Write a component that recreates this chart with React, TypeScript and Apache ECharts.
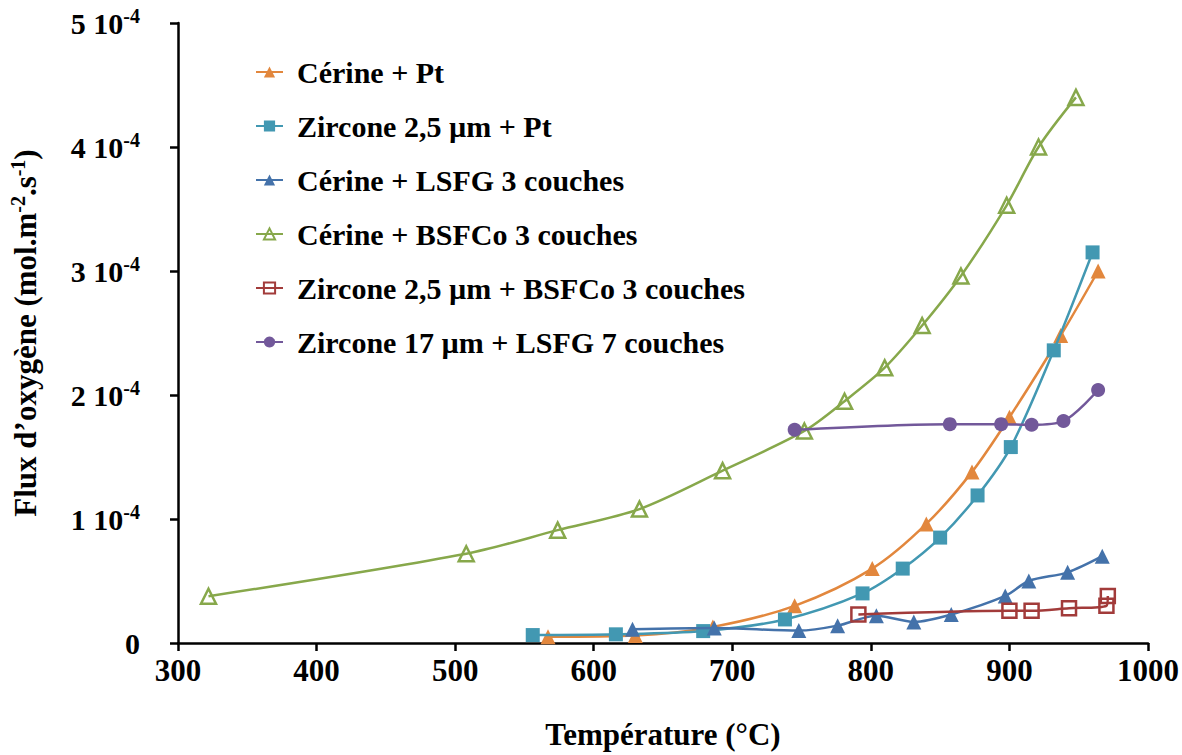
import React, { useEffect, useRef } from "react";
import * as echarts from "echarts";

const seriesNames = [
  "Cérine + Pt",
  "Zircone 2,5 µm + Pt",
  "Cérine + LSFG 3 couches",
  "Cérine + BSFCo 3 couches",
  "Zircone 2,5 µm + BSFCo 3 couches",
  "Zircone 17 µm + LSFG 7 couches",
];

// Temperatures (°C)
const tCerinePt = [567, 630, 686, 745, 801, 840, 873, 900, 937, 964];
const tZircPt = [556, 616, 679, 738, 794, 823, 850, 877, 901, 932, 960];
const tCerineLSFG = [628, 687, 748, 776, 804, 831, 858, 897, 914, 942, 967];
const tCerineBSFCo = [322, 508, 574, 633, 693, 752, 781, 810, 837, 865, 898, 921, 948];
const tZircBSFCo = [791, 900, 916, 943, 970, 971];
const tZirc17LSFG = [745, 857, 894, 916, 939, 964];

// Oxygen flux (mol.m-2.s-1)
const fCerinePt = [0.05e-4, 0.06e-4, 0.13e-4, 0.3e-4, 0.6e-4, 0.96e-4, 1.38e-4, 1.82e-4, 2.48e-4, 3.0e-4];
const fZircPt = [0.064e-4, 0.07e-4, 0.096e-4, 0.19e-4, 0.4e-4, 0.6e-4, 0.85e-4, 1.19e-4, 1.58e-4, 2.36e-4, 3.15e-4];
const fCerineLSFG = [0.11e-4, 0.12e-4, 0.1e-4, 0.14e-4, 0.22e-4, 0.17e-4, 0.23e-4, 0.38e-4, 0.5e-4, 0.57e-4, 0.7e-4];
const fCerineBSFCo = [0.377e-4, 0.72e-4, 0.91e-4, 1.08e-4, 1.39e-4, 1.71e-4, 1.95e-4, 2.22e-4, 2.56e-4, 2.96e-4, 3.53e-4, 4.0e-4, 4.4e-4];
const fZircBSFCo = [0.23e-4, 0.26e-4, 0.26e-4, 0.28e-4, 0.3e-4, 0.38e-4];
const fZirc17LSFG = [1.72e-4, 1.765e-4, 1.765e-4, 1.76e-4, 1.79e-4, 2.04e-4];

const xTicks = { min: 300, max: 1000, interval: 100 };
const yTicks = { min: 0, max: 5e-4, interval: 1e-4 };

const colors = ["#E2873D", "#4298B2", "#4472AA", "#87A84B", "#A23B3A", "#72589A"];

const zip = (xs: number[], ys: number[]) => xs.map((x, i) => [x, ys[i]]);

const FONT = "Liberation Serif";

export default function App() {
  const ref = useRef<HTMLDivElement>(null);
  useEffect(() => {
    if (!ref.current) return;
    const chart = echarts.init(ref.current, undefined, { renderer: "svg" });
    const datasets = [
      zip(tCerinePt, fCerinePt),
      zip(tZircPt, fZircPt),
      zip(tCerineLSFG, fCerineLSFG),
      zip(tCerineBSFCo, fCerineBSFCo),
      zip(tZircBSFCo, fZircBSFCo),
      zip(tZirc17LSFG, fZirc17LSFG),
    ];
    const symbols = ["triangle", "rect", "triangle", "triangle", "rect", "circle"];
    const sizes = [15, 14, 15, 15, 14, 14];
    const hollow = [false, false, false, true, true, false];
    const series = datasets.map((d, i) => ({
      name: seriesNames[i],
      type: "line",
      data: d,
      smooth: 0.3,
      symbol: symbols[i],
      symbolSize: sizes[i],
      showAllSymbol: true,
      lineStyle: { color: colors[i], width: 2.5 },
      itemStyle: hollow[i]
        ? { color: "rgba(255,255,255,0)", borderColor: colors[i], borderWidth: 2.5 }
        : { color: colors[i], borderWidth: 0 },
      z: 2 + i,
    }));
    const tickRich = {
      n: { fontFamily: FONT, fontWeight: "bold", fontSize: 30, color: "#000" },
      s: { fontFamily: FONT, fontWeight: "bold", fontSize: 20, color: "#000", padding: [0, 0, 14, 0] },
    };
    const titleRich = {
      n: { fontFamily: FONT, fontWeight: "bold", fontSize: 31, color: "#000" },
      s: { fontFamily: FONT, fontWeight: "bold", fontSize: 20, color: "#000", padding: [0, 0, 14, 0] },
    };
    chart.setOption({
      animation: false,
      backgroundColor: "#fff",
      grid: { left: 172, right: 34, top: 23, bottom: 108, containLabel: false },
      legend: {
        orient: "vertical",
        left: 255,
        top: 57,
        padding: 0,
        itemWidth: 27,
        itemHeight: 14,
        itemGap: 24,
        formatter: (name: string) => `{a|${name}}`,
        textStyle: {
          fontFamily: FONT,
          fontWeight: "bold",
          fontSize: 30,
          color: "#000",
          rich: { a: { fontFamily: FONT, fontWeight: "bold", fontSize: 30, color: "#000", padding: [0, 0, 0, 9] } },
        },
        data: seriesNames,
      },
      xAxis: {
        type: "value",
        min: xTicks.min,
        max: xTicks.max,
        interval: xTicks.interval,
        name: "Température (°C)",
        nameLocation: "middle",
        nameGap: 76,
        nameTextStyle: { fontFamily: FONT, fontWeight: "bold", fontSize: 31, color: "#000" },
        axisLine: { lineStyle: { color: "#000", width: 2.5 } },
        axisTick: { show: true, length: 8, lineStyle: { color: "#000", width: 2.5 } },
        axisLabel: {
          fontFamily: FONT,
          fontWeight: "bold",
          fontSize: 31,
          color: "#000",
          margin: 12,
          formatter: (v: number) => String(Math.round(v)),
        },
        splitLine: { show: false },
      },
      yAxis: {
        type: "value",
        min: yTicks.min,
        max: yTicks.max,
        interval: yTicks.interval,
        name: "{n|Flux d’oxygène (mol.m}{s|-2}{n|.s}{s|-1}{n|)}",
        nameLocation: "middle",
        nameGap: 136,
        nameRotate: 90,
        nameTextStyle: { rich: titleRich },
        axisLine: { lineStyle: { color: "#000", width: 2.5 } },
        axisTick: { show: true, length: 8, lineStyle: { color: "#000", width: 2.5 } },
        axisLabel: {
          margin: 38,
          formatter: (v: number) => {
            const k = Math.round(v * 1e4);
            return k === 0 ? "{n|0}" : `{n|${k} 10}{s|-4}`;
          },
          rich: tickRich,
        },
        splitLine: { show: false },
      },
      series,
    });
    return () => chart.dispose();
  }, []);
  return (
    <div
      ref={ref}
      style={{ position: "fixed", left: 0, top: 0, width: 1182, height: 755 }}
    />
  );
}
